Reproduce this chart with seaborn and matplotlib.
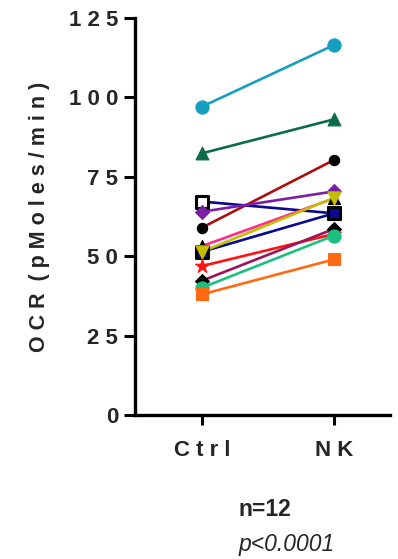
import matplotlib
matplotlib.use("Agg")
import matplotlib.pyplot as plt
import seaborn as sns
import pandas as pd

sns.set_theme(style="ticks")
plt.rcParams["font.family"] = ["Liberation Sans", "DejaVu Sans"]

conditions = ["Ctrl", "NK"]
tick_text = ["C t r l", "N K"]
subjects = ["S1", "S2", "S3", "S4", "S5", "S6", "S7", "S8", "S9", "S10", "S11", "S12"]
ctrl_ocr = [97.1, 82.4, 67.2, 59.0, 64.0, 51.4, 53.2, 51.4, 46.9, 42.3, 40.1, 38.0]
nk_ocr = [116.5, 93.1, 63.5, 80.3, 70.4, 63.5, 68.2, 68.4, 57.0, 58.6, 56.5, 49.0]
y_ticks = [0, 25, 50, 75, 100, 125]

line_colors = ["#179fbf", "#0c6b48", "#0a0a8f", "#a80f0f", "#7a1fa3", "#0a0a8f",
               "#ff2d8a", "#c4bd00", "#ff1414", "#9c1459", "#19c07f", "#ff6a12"]
marker_shapes = ["o", "^", "s", "o", "D", "s", "^", "v", "*", "D", "o", "s"]
marker_faces = ["#179fbf", "#0c6b48", "white", "black", "#7a1fa3", "#0a0a8f",
                "black", "#c4bd00", "#ff1414", "black", "#19c07f", "#ff6a12"]
marker_edges = ["#179fbf", "#0c6b48", "black", "black", "#7a1fa3", "black",
                "black", "#c4bd00", "#ff1414", "black", "#19c07f", "#ff6a12"]
marker_sizes = [90, 85, 70, 55, 50, 70, 75, 90, 110, 50, 90, 75]

rows = []
for s, c, n in zip(subjects, ctrl_ocr, nk_ocr):
    rows.append({"subject": s, "pos": 0, "ocr": c})
    rows.append({"subject": s, "pos": 1, "ocr": n})
df = pd.DataFrame(rows)

fig = plt.figure(figsize=(3.98, 5.59), dpi=100)
ax = fig.add_axes([135 / 398, 1 - 415 / 559, 255 / 398, 397 / 559])

sns.lineplot(data=df, x="pos", y="ocr", hue="subject", palette=line_colors,
             hue_order=subjects, linewidth=1.9, legend=False, ax=ax, sort=False)

for i, s in enumerate(subjects):
    sub = df[df["subject"] == s]
    lw = 2.2 if marker_shapes[i] == "s" and marker_faces[i] in ("white", "#0a0a8f") else 0.8
    sns.scatterplot(data=sub, x="pos", y="ocr", marker=marker_shapes[i],
                    s=marker_sizes[i], color=marker_faces[i],
                    edgecolor=marker_edges[i], linewidth=lw,
                    legend=False, ax=ax, zorder=3 + i)

ax.set_xlim(-0.508, 1.424)
ax.set_ylim(0, 125)
ax.set_yticks(y_ticks)
ax.set_yticklabels([" ".join(str(t)) for t in y_ticks])
ax.set_xticks([0, 1])
ax.set_xticklabels(tick_text)
for lab in ax.get_yticklabels() + ax.get_xticklabels():
    lab.set_fontweight("bold")
    lab.set_fontsize(16)
ax.tick_params(axis="y", length=8, width=2.2, pad=4, color="black")
ax.tick_params(axis="x", length=7, width=2.2, pad=11, color="black")
sns.despine(ax=ax)
for side in ("left", "bottom"):
    ax.spines[side].set_linewidth(2.4)
    ax.spines[side].set_color("black")
ax.set_xlabel("")
ax.set_ylabel("O C R  ( p M o l e s / m i n )", fontsize=15.5, fontweight="bold", labelpad=14)

fig.text(265 / 398, 1 - 509 / 559, "n=12", ha="center", va="center",
         fontsize=16.5, fontweight="bold")
fig.text(287 / 398, 1 - 545 / 559, "p<0.0001", ha="center", va="center",
         fontsize=16.5, fontstyle="italic")

fig.savefig("out.png", dpi=100)
